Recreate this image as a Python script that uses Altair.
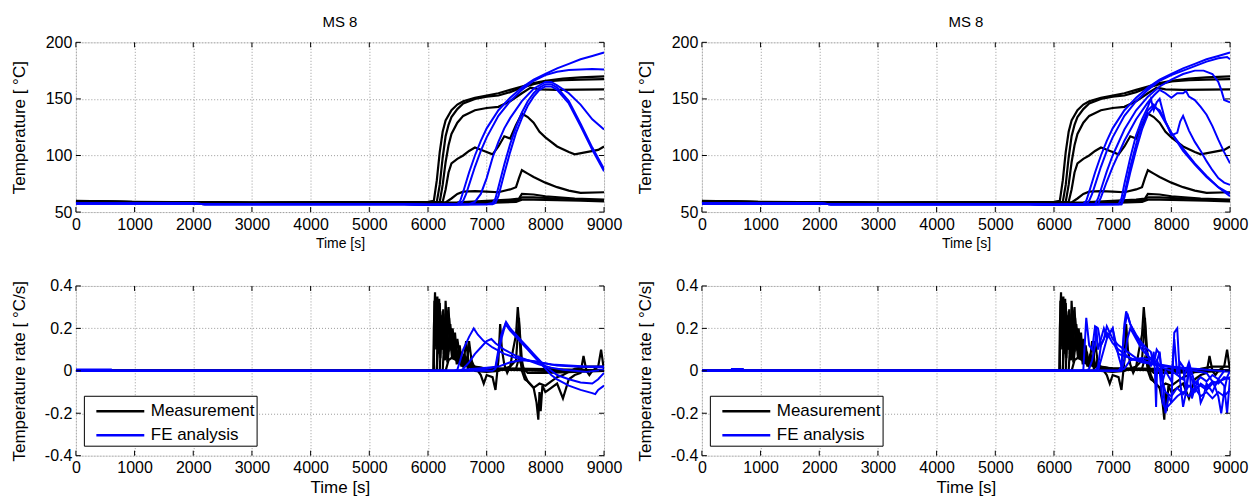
import altair as alt
import pandas as pd

FONT = "Liberation Sans"
TIME_TICKS = [0, 1000, 2000, 3000, 4000, 5000, 6000, 7000, 8000, 9000]
TEMP_TICKS = [50, 100, 150, 200]
RATE_TICKS = [-0.4, -0.2, 0, 0.2, 0.4]
SERIES = ["Measurement", "FE analysis"]
COLORS = ["#000000", "#0000ff"]
PANEL_TITLE = "MS 8"

# ---------------- Measured temperatures (same in both top panels) ----------------
M1_T = [0, 1000, 3000, 6000, 6100, 6150, 6200, 6250, 6300, 6400, 6500, 6600, 6800, 7000, 7200, 7400, 7600, 7800, 8000, 8300, 8600, 9000]
M1_V = [60, 59, 58.3, 59, 60, 78, 103, 121, 131, 140, 145, 148, 151, 153, 155, 158, 161, 164, 166, 168, 169, 170]
M2_T = [0, 1000, 3000, 6000, 6150, 6200, 6250, 6300, 6350, 6400, 6500, 6600, 6800, 7000, 7200, 7400, 7600, 7800, 8000, 8300, 8600, 9000]
M2_V = [59.5, 58.8, 58.2, 58.7, 59, 74, 98, 117, 127, 134, 141, 146, 150, 152, 153, 156, 160, 163, 165.5, 166.5, 167, 167.5]
M3_T = [0, 1000, 3000, 6000, 6200, 6250, 6300, 6350, 6400, 6500, 6600, 6800, 7000, 7200, 7400, 7600, 7750, 7900, 8200, 9000]
M3_V = [59.5, 58.8, 58.2, 58.5, 59, 74, 94, 109, 119, 129, 135, 140, 142, 143, 148, 155, 160, 158.5, 158, 158.5]
M4_T = [0, 1000, 3000, 6000, 6250, 6300, 6350, 6400, 6500, 6600, 6700, 6800, 6900, 7000, 7100, 7200, 7300, 7400, 7500, 7600, 7700, 7800, 7900, 8000, 8200, 8400, 8500, 8700, 8900, 9000]
M4_V = [59.5, 58.8, 58.2, 58.5, 59, 70, 85, 93, 97, 100, 104, 107, 105, 103, 101, 108, 117, 115, 127, 137, 134, 129, 121, 116, 108, 103, 101, 103, 105, 108]
M5_T = [0, 1000, 3000, 6000, 6300, 6400, 6500, 6600, 6800, 7000, 7200, 7400, 7500, 7550, 7600, 7700, 7800, 8000, 8200, 8400, 8600, 9000]
M5_V = [59.5, 58.8, 58.2, 58.3, 58.5, 62, 66, 68, 68.5, 68, 67.5, 70, 72, 80, 87, 84, 81, 76, 72, 69, 67, 67.5]
M6_T = [0, 1000, 3000, 6000, 6500, 7000, 7400, 7550, 7600, 7800, 8000, 8500, 9000]
M6_V = [59.5, 58.8, 58.2, 58.3, 58.5, 60, 61, 62, 66, 65.5, 64, 62, 61]
M7_T = [0, 1000, 3000, 6000, 6500, 7000, 7500, 7600, 7800, 8200, 8600, 9000]
M7_V = [59, 58.5, 58, 58, 58, 59, 60, 63, 63, 62, 61, 60]
M8_T = [0, 1000, 3000, 6000, 6500, 7000, 7500, 7600, 7800, 8200, 8600, 9000]
M8_V = [58.5, 58, 57.5, 57.5, 57.5, 58, 59, 61, 61, 60.5, 60, 59.5]

# ---------------- FE temperatures, left ----------------
F1_T = [0, 2000, 2200, 5600, 6000, 6500, 6550, 6600, 6700, 6800, 6900, 7000, 7200, 7400, 7600, 7800, 8000, 8200, 8400, 8600, 8800, 9000]
F1_V = [57.5, 57.5, 57, 57, 56.5, 57, 60, 68, 85, 100, 113, 124, 140, 151, 160, 167, 172, 177, 181, 185, 188, 191]
F2_T = [0, 2000, 2200, 5600, 6000, 6550, 6600, 6650, 6700, 6800, 6900, 7000, 7200, 7400, 7600, 7800, 8000, 8200, 8400, 8600, 8800, 9000]
F2_V = [57.5, 57.5, 57, 57, 56.5, 57, 60, 66, 74, 90, 104, 116, 135, 148, 158, 166, 171, 174, 175.5, 176, 176.5, 176]
F3_T = [0, 2000, 2200, 5600, 6000, 6700, 6800, 6900, 7000, 7100, 7200, 7300, 7400, 7600, 7800, 8000, 8100, 8200, 8400, 8600, 8800, 9000]
F3_V = [57.5, 57.5, 57, 57, 56.5, 57, 59, 66, 80, 98, 112, 124, 133, 148, 159, 165, 165, 162, 155, 145, 132, 123]
F4_T = [0, 2000, 2200, 5600, 6000, 7000, 7100, 7150, 7200, 7300, 7400, 7500, 7600, 7700, 7800, 7900, 8000, 8100, 8200, 8400, 8600, 8800, 9000]
F4_V = [57.5, 57.5, 57, 57, 56.5, 57, 58, 62, 72, 92, 110, 125, 138, 148, 155, 160, 163, 163, 160, 148, 128, 107, 88]
F5_T = [0, 2000, 2200, 5600, 6000, 7100, 7150, 7200, 7300, 7400, 7500, 7600, 7700, 7800, 7900, 8000, 8100, 8200, 8400, 8600, 8800, 9000]
F5_V = [57.5, 57.5, 57, 57, 56.5, 57, 58, 64, 84, 103, 120, 133, 144, 152, 158, 161, 161, 158, 146, 126, 105, 86]

# ---------------- FE temperatures, right ----------------
G1_T = [0, 2000, 2200, 5600, 6000, 6500, 6550, 6600, 6700, 6800, 6900, 7000, 7200, 7400, 7600, 7800, 8000, 8200, 8400, 8600, 8800, 9000]
G1_V = [57.5, 57.5, 57, 57, 56.5, 57, 60, 68, 85, 100, 113, 124, 140, 151, 160, 167, 172, 177, 181, 185, 188, 191]
G2_T = [0, 2000, 2200, 5600, 6000, 6550, 6600, 6650, 6700, 6800, 6900, 7000, 7200, 7400, 7600, 7800, 8000, 8200, 8400, 8600, 8800, 8950, 9000]
G2_V = [57.5, 57.5, 57, 57, 56.5, 57, 60, 66, 74, 90, 104, 116, 135, 148, 158, 166, 171, 175, 179, 183, 186, 187, 185]
G3_T = [0, 2000, 2200, 5600, 6000, 6700, 6750, 6800, 6900, 7000, 7200, 7400, 7600, 7800, 8000, 8200, 8400, 8550, 8700, 8800, 8850, 8900, 9000]
G3_V = [57.5, 57.5, 57, 57, 56.5, 57, 62, 70, 86, 100, 123, 140, 152, 161, 167, 172, 175, 175, 172, 165, 158, 149, 147]
G4_T = [0, 2000, 2200, 5600, 6000, 6750, 6800, 6900, 7000, 7200, 7400, 7600, 7700, 7800, 7900, 8000, 8100, 8200, 8250, 8300, 8400, 8500, 8600, 8700, 8800, 8900, 9000]
G4_V = [57.5, 57.5, 57, 57, 56.5, 57, 63, 77, 90, 113, 132, 147, 153, 158, 155, 151, 155, 155, 157, 152, 149, 143, 136, 126, 114, 103, 93]
G5_T = [0, 2000, 2200, 5600, 6000, 7100, 7150, 7200, 7300, 7400, 7500, 7600, 7650, 7700, 7750, 7800, 7850, 7900, 8000, 8100, 8150, 8200, 8300, 8400, 8500, 8600, 8700, 8800, 8900, 9000]
G5_V = [57.5, 57.5, 57, 57, 56.5, 57, 62, 75, 98, 118, 132, 143, 150, 140, 147, 150, 140, 130, 118, 120, 130, 135, 122, 112, 104, 95, 87, 80, 76, 74]
G6_T = [0, 2000, 2200, 5600, 6000, 7150, 7200, 7300, 7400, 7500, 7600, 7700, 7800, 8000, 8200, 8400, 8600, 8800, 9000]
G6_V = [57.5, 57.5, 57, 57, 56.5, 57, 66, 90, 110, 128, 140, 145, 138, 120, 104, 92, 81, 72, 66]
G7_T = [0, 2000, 2200, 5600, 6000, 7150, 7200, 7300, 7400, 7500, 7600, 7700, 7800, 7900, 8000, 8200, 8400, 8600, 8800, 9000]
G7_V = [57.5, 57.5, 57, 57, 56.5, 57, 63, 85, 105, 123, 136, 143, 140, 130, 120, 106, 93, 82, 72, 64]

# ---------------- Measured rates (same in both bottom panels) ----------------
K1_T = [0, 6000, 6090, 6100, 6120, 6140, 6160, 6180, 6200, 6220, 6250, 6280, 6300, 6330, 6360, 6400, 6450, 6500, 6600, 6700, 6800, 7000, 7500, 8000, 9000]
K1_V = [0, 0, 0, 0.2, 0.37, 0.1, 0.35, 0.08, 0.3, 0.12, 0.28, 0.05, 0.33, 0.15, 0.25, 0.1, 0.08, 0.04, 0.03, 0.02, 0.015, 0.01, 0.01, 0.008, 0.002]
K2_T = [0, 6000, 6150, 6170, 6200, 6230, 6260, 6290, 6320, 6350, 6380, 6420, 6460, 6500, 6550, 6600, 6700, 7000, 8000, 9000]
K2_V = [0, 0, 0, 0.25, 0.32, 0.1, 0.29, 0.05, 0.22, 0.3, 0.12, 0.2, 0.05, 0.15, 0.05, 0.04, 0.02, 0.01, 0.005, 0]
K3_T = [0, 6200, 6230, 6260, 6300, 6340, 6380, 6420, 6460, 6500, 6540, 6580, 6620, 6660, 6700, 6750, 6800, 7000, 8000, 9000]
K3_V = [0, 0, 0.2, 0.1, 0.27, 0.05, 0.22, 0.1, 0.18, 0.04, 0.12, 0.03, 0.07, 0.02, 0.14, 0.03, 0.02, 0.01, 0, 0]
K4_T = [0, 6250, 6300, 6350, 6400, 6450, 6500, 6600, 6700, 6800, 6900, 6950, 7000, 7100, 7150, 7200, 7230, 7260, 7300, 7350, 7400, 7450, 7500, 7530, 7560, 7600, 7650, 7700, 7800, 7900, 8000, 8100, 8200, 8300, 8400, 8500, 8700, 8900, 9000]
K4_V = [0, 0, 0.25, 0.2, 0.1, 0.07, 0.05, 0.04, 0.03, 0.02, -0.02, -0.06, -0.02, -0.03, -0.09, 0.05, 0.22, 0.1, 0.03, -0.01, 0.02, 0.1, 0.17, 0.3, 0.2, 0.05, -0.02, -0.05, -0.08, -0.06, -0.07, -0.05, -0.03, -0.02, -0.005, 0.01, 0.02, 0.02, 0.02]
K5_T = [0, 6300, 6350, 6400, 6500, 6600, 6650, 6700, 6800, 7000, 7200, 7400, 7500, 7550, 7580, 7600, 7650, 7700, 7800, 7850, 7880, 7900, 7920, 7950, 8000, 8100, 8200, 8300, 8400, 8500, 8600, 8650, 8700, 8750, 8800, 8900, 8950, 9000]
K5_V = [0, 0, 0.05, 0.06, 0.05, 0.02, 0.14, 0.02, 0.0, -0.005, 0.0, 0.02, 0.05, 0.25, 0.05, 0.0, -0.04, -0.05, -0.08, -0.15, -0.23, -0.1, -0.19, -0.07, -0.1, -0.08, -0.06, -0.13, -0.04, -0.02, -0.01, 0.07, 0.0, -0.02, 0.0, 0.02, 0.1, 0.0]
K6_T = [0, 6500, 7000, 7500, 7550, 7600, 7700, 8000, 8500, 9000]
K6_V = [0, 0, 0.005, 0.01, 0.06, 0.02, -0.01, -0.01, -0.005, 0]
K7_T = [0, 6100, 6110, 6130, 6150, 6175, 6190, 6210, 6240, 6270, 6310, 6350, 6390, 6430, 6470, 6520, 6560, 6600, 6650, 6700, 7000, 9000]
K7_V = [0, 0, 0.33, 0.12, 0.3, 0.15, 0.34, 0.18, 0.26, 0.1, 0.24, 0.09, 0.2, 0.06, 0.13, 0.05, 0.09, 0.03, 0.06, 0.02, 0.01, 0]
K8_T = [0, 6150, 6180, 6210, 6240, 6270, 6300, 6330, 6370, 6410, 6450, 6490, 6530, 6570, 6620, 6680, 6740, 6800, 7000, 9000]
K8_V = [0, 0, 0.18, 0.06, 0.26, 0.08, 0.2, 0.04, 0.17, 0.06, 0.14, 0.03, 0.1, 0.02, 0.08, 0.01, 0.05, 0.01, 0.005, 0]

# ---------------- FE rates, left ----------------
R1_T = [0, 600, 610, 6000, 6450, 6500, 6550, 6600, 6700, 6780, 6850, 6950, 7100, 7300, 7500, 7700, 7900, 8100, 8400, 8700, 9000]
R1_V = [0.006, 0.006, 0, 0, 0.0, 0.005, 0.05, 0.1, 0.16, 0.2, 0.17, 0.14, 0.11, 0.08, 0.06, 0.05, 0.04, 0.03, 0.025, 0.02, 0.02]
R2_T = [0, 6000, 6550, 6600, 6700, 6800, 6900, 7000, 7080, 7150, 7300, 7500, 7700, 7900, 8100, 8300, 8500, 8700, 9000]
R2_V = [0, 0, 0, 0.01, 0.04, 0.08, 0.11, 0.14, 0.15, 0.13, 0.1, 0.07, 0.05, 0.03, 0.015, 0.005, 0.0, -0.005, 0.005]
R3_T = [0, 6700, 6800, 7000, 7100, 7150, 7200, 7250, 7330, 7400, 7500, 7600, 7700, 7800, 7900, 8000, 8100, 8200, 8400, 8600, 8800, 8900, 9000]
R3_V = [0, 0, 0.005, 0.01, 0.015, 0.02, 0.1, 0.17, 0.23, 0.2, 0.17, 0.14, 0.11, 0.08, 0.05, 0.02, 0.0, -0.02, -0.04, -0.055, -0.06, -0.04, -0.01]
R4_T = [0, 7100, 7150, 7200, 7260, 7320, 7400, 7500, 7600, 7700, 7800, 7900, 8000, 8100, 8200, 8400, 8600, 8800, 8850, 8900, 9000]
R4_V = [0, 0, 0.01, 0.08, 0.16, 0.22, 0.19, 0.16, 0.13, 0.1, 0.07, 0.04, 0.01, -0.02, -0.04, -0.07, -0.09, -0.105, -0.11, -0.09, -0.07]
R5_T = [0, 6500, 6600, 6800, 7000, 7200, 7400, 7600, 7800, 8000, 8200, 8500, 9000]
R5_V = [0, 0, 0.005, 0.01, 0.015, 0.02, 0.04, 0.05, 0.045, 0.035, 0.025, 0.02, 0.015]

# ---------------- FE rates, right ----------------
S1_T = [0, 500, 510, 700, 710, 6000, 6450, 6500, 6550, 6600, 6650, 6700, 6750, 6800, 6850, 6900, 7000, 7100, 7200, 7300, 7400, 7500, 7600, 7700, 7800, 7900, 8000, 8200, 8400, 8600, 8800, 9000]
S1_V = [0, 0, 0.008, 0.008, 0, 0, 0, 0.005, 0.25, 0.12, 0.1, 0.21, 0.2, 0.12, 0.15, 0.21, 0.15, 0.12, 0.1, 0.08, 0.06, 0.05, 0.04, 0.035, 0.03, 0.025, 0.02, 0.015, 0.01, 0.005, 0, -0.005]
S2_T = [0, 6550, 6600, 6650, 6700, 6720, 6750, 6800, 6850, 6900, 7000, 7050, 7100, 7200, 7300, 7400, 7500, 7600, 7700, 7750, 7800, 7900, 8000, 8100, 8200, 8300, 8400, 8500, 8600, 8700, 8800, 8900, 9000]
S2_V = [0, 0, 0.01, 0.05, 0.12, 0.21, 0.1, 0.15, 0.2, 0.16, 0.2, 0.11, 0.08, 0.07, 0.06, 0.05, 0.05, 0.04, 0.03, 0.05, 0.02, 0.01, 0.0, -0.02, -0.04, 0.04, -0.06, -0.03, -0.05, -0.02, -0.04, 0, 0]
S3_T = [0, 6700, 6750, 6800, 6900, 7000, 7100, 7200, 7250, 7300, 7400, 7500, 7600, 7700, 7800, 7900, 8000, 8200, 8400, 8600, 8700, 8750, 8800, 8850, 8900, 8950, 9000]
S3_V = [0, 0, 0.02, 0.12, 0.18, 0.13, 0.1, 0.08, 0.07, 0.06, 0.05, 0.04, 0.035, 0.03, 0.025, 0.02, 0.015, 0.01, 0.0, -0.01, -0.05, -0.08, -0.12, -0.2, -0.1, -0.03, 0]
S4_T = [0, 6750, 6800, 6900, 7000, 7100, 7150, 7200, 7230, 7300, 7400, 7500, 7600, 7650, 7700, 7750, 7800, 7850, 7900, 8000, 8050, 8100, 8150, 8200, 8250, 8300, 8400, 8500, 8600, 8700, 8800, 8900, 9000]
S4_V = [0, 0, 0.05, 0.15, 0.2, 0.07, 0.02, 0.22, 0.28, 0.22, 0.17, 0.13, 0.1, 0.09, 0.03, 0.1, 0.08, -0.05, 0.0, -0.05, 0.15, -0.02, 0.04, 0.02, -0.1, 0.0, -0.08, -0.12, -0.1, -0.13, -0.1, -0.12, -0.09]
S5_T = [0, 7100, 7150, 7200, 7250, 7300, 7400, 7500, 7600, 7650, 7700, 7720, 7740, 7760, 7800, 7850, 7900, 7950, 8000, 8050, 8100, 8150, 8200, 8250, 8300, 8350, 8400, 8450, 8500, 8550, 8600, 8700, 8800, 8900, 8950, 9000]
S5_V = [0, 0, 0.02, 0.2, 0.27, 0.22, 0.16, 0.12, 0.08, 0.02, 0.09, 0.0, -0.17, 0.05, 0.09, -0.05, -0.2, -0.12, -0.15, 0.18, 0.2, -0.05, -0.17, -0.1, 0.04, -0.13, -0.08, -0.05, -0.15, -0.12, -0.06, -0.1, -0.04, -0.07, -0.2, -0.03]
S6_T = [0, 7150, 7200, 7250, 7300, 7400, 7500, 7600, 7700, 7800, 7850, 7900, 8000, 8100, 8200, 8300, 8400, 8500, 8600, 8700, 8800, 8900, 9000]
S6_V = [0, 0, 0.05, 0.15, 0.2, 0.15, 0.1, 0.07, 0.05, 0.0, -0.15, -0.18, -0.15, -0.12, -0.1, -0.12, -0.08, -0.07, -0.09, -0.06, -0.05, -0.04, -0.03]
S7_T = [0, 7100, 7200, 7300, 7500, 7700, 7800, 7900, 8000, 8100, 8200, 8300, 8400, 8500, 8600, 8700, 8800, 8900, 9000]
S7_V = [0, 0, 0.01, 0.05, 0.06, 0.05, 0.0, -0.1, -0.12, -0.08, -0.11, -0.07, -0.1, -0.06, -0.08, -0.05, -0.06, -0.03, -0.04]


def frame(curves, kind):
    rows = []
    for name, (ts, vs) in curves.items():
        for t, v in zip(ts, vs):
            rows.append({"curve": name, "kind": kind, "t": t, "v": v})
    return pd.DataFrame(rows)


meas_temp = frame({"M1": (M1_T, M1_V), "M2": (M2_T, M2_V), "M3": (M3_T, M3_V), "M4": (M4_T, M4_V),
                   "M5": (M5_T, M5_V), "M6": (M6_T, M6_V), "M7": (M7_T, M7_V), "M8": (M8_T, M8_V)}, SERIES[0])
fe_temp_l = frame({"F1": (F1_T, F1_V), "F2": (F2_T, F2_V), "F3": (F3_T, F3_V), "F4": (F4_T, F4_V),
                   "F5": (F5_T, F5_V)}, SERIES[1])
fe_temp_r = frame({"G1": (G1_T, G1_V), "G2": (G2_T, G2_V), "G3": (G3_T, G3_V), "G4": (G4_T, G4_V),
                   "G5": (G5_T, G5_V), "G6": (G6_T, G6_V), "G7": (G7_T, G7_V)}, SERIES[1])
meas_rate = frame({"K1": (K1_T, K1_V), "K2": (K2_T, K2_V), "K3": (K3_T, K3_V), "K4": (K4_T, K4_V),
                   "K5": (K5_T, K5_V), "K6": (K6_T, K6_V), "K7": (K7_T, K7_V), "K8": (K8_T, K8_V)}, SERIES[0])
fe_rate_l = frame({"R1": (R1_T, R1_V), "R2": (R2_T, R2_V), "R3": (R3_T, R3_V), "R4": (R4_T, R4_V),
                   "R5": (R5_T, R5_V)}, SERIES[1])
fe_rate_r = frame({"S1": (S1_T, S1_V), "S2": (S2_T, S2_V), "S3": (S3_T, S3_V), "S4": (S4_T, S4_V),
                   "S5": (S5_T, S5_V), "S6": (S6_T, S6_V), "S7": (S7_T, S7_V)}, SERIES[1])

W, H = 529, 170
TICK_LEN = 5


def panel(meas, fe, ydom, yticks, ytitle, title=None, legend=False, label_expr=None, xtitle_size=15):
    if legend:
        leg = alt.Legend(orient="none", legendX=8, legendY=110, title=None,
                         symbolType="M-0.25,0H3.75", symbolSize=576, symbolStrokeWidth=2.5,
                         labelFontSize=17, labelFont=FONT, labelOffset=38, labelColor="black",
                         rowPadding=2, padding=2, strokeColor="black", fillColor="white",
                         labelLimit=300)
    else:
        leg = None
    color = alt.Color("kind:N", scale=alt.Scale(domain=SERIES, range=COLORS), legend=leg)
    yaxis_kw = dict(values=yticks, title=ytitle, titleFontSize=17, titleFontWeight="normal",
                    titleFont=FONT, titleColor="black", titlePadding=13,
                    labelFontSize=16, labelFont=FONT, labelColor="black", labelPadding=4,
                    minExtent=34, maxExtent=34, ticks=False, domain=False,
                    grid=True, gridDash=[1, 2], gridColor="#9a9a9a", gridWidth=1)
    if label_expr:
        yaxis_kw["labelExpr"] = label_expr
    x = alt.X("t:Q", scale=alt.Scale(domain=[0, 9000], nice=False, zero=False),
              axis=alt.Axis(values=TIME_TICKS, format="d", title="Time [s]", titleFontSize=xtitle_size,
                            titleFontWeight="normal", titleFont=FONT, titleColor="black", titlePadding=4,
                            labelFontSize=16, labelFont=FONT, labelColor="black", labelPadding=4,
                            ticks=False, domain=False, grid=True, gridDash=[1, 2],
                            gridColor="#9a9a9a", gridWidth=1, labelFlush=False))
    y = alt.Y("v:Q", scale=alt.Scale(domain=ydom, nice=False, zero=False), axis=alt.Axis(**yaxis_kw))

    # inward tick marks on all four sides (MATLAB style), placed by the scales
    xt = pd.DataFrame({"t": TIME_TICKS})
    yt = pd.DataFrame({"v": yticks})
    tick_b = alt.Chart(xt).mark_rule(color="black", strokeWidth=1).encode(
        x=x, y=alt.value(H), y2=alt.value(H - TICK_LEN))
    tick_t = alt.Chart(xt).mark_rule(color="black", strokeWidth=1).encode(
        x=x, y=alt.value(0), y2=alt.value(TICK_LEN))
    tick_l = alt.Chart(yt).mark_rule(color="black", strokeWidth=1).encode(
        y=y, x=alt.value(0), x2=alt.value(TICK_LEN))
    tick_r = alt.Chart(yt).mark_rule(color="black", strokeWidth=1).encode(
        y=y, x=alt.value(W), x2=alt.value(W - TICK_LEN))

    lm = alt.Chart(meas).mark_line(strokeWidth=2.2, clip=True).encode(
        x=x, y=y, color=color, detail="curve:N", order="t:Q")
    lf = alt.Chart(fe).mark_line(strokeWidth=2, clip=True).encode(
        x=x, y=y, color=color, detail="curve:N", order="t:Q")
    ch = alt.layer(lm, lf, tick_b, tick_t, tick_l, tick_r).properties(width=W, height=H)
    if title:
        ch = ch.properties(title=alt.TitleParams(title, fontSize=15, fontWeight="normal", font=FONT,
                                                 color="black", offset=4))
    return ch


rate_labels = "datum.value == 0 ? '0' : (datum.value < 0 ? '-' : '') + format(abs(datum.value), '.1f')"
temp_title = "Temperature [ °C]"
rate_title = "Temperature rate [ °C/s]"

tl = panel(meas_temp, fe_temp_l, [50, 200], TEMP_TICKS, temp_title, title=PANEL_TITLE, xtitle_size=14)
tr = panel(meas_temp, fe_temp_r, [50, 200], TEMP_TICKS, temp_title, title=PANEL_TITLE, xtitle_size=14)
bl = panel(meas_rate, fe_rate_l, [-0.4, 0.4], RATE_TICKS, rate_title, legend=True, label_expr=rate_labels, xtitle_size=17)
br = panel(meas_rate, fe_rate_r, [-0.4, 0.4], RATE_TICKS, rate_title, legend=True, label_expr=rate_labels, xtitle_size=17)

top = alt.hconcat(tl, tr, spacing=13).resolve_scale(color="independent").resolve_legend(color="independent")
bottom = alt.hconcat(bl, br, spacing=13).resolve_scale(color="independent").resolve_legend(color="independent")

chart = (alt.vconcat(top, bottom, spacing=26)
         .resolve_scale(color="independent").resolve_legend(color="independent")
         .properties(padding={"left": 2, "top": 6, "right": 2, "bottom": 0})
         .configure_view(stroke="black", strokeWidth=1)
         .configure(font=FONT, background="white"))

chart.save("out.html", embed_options={"renderer": "svg", "actions": False})
